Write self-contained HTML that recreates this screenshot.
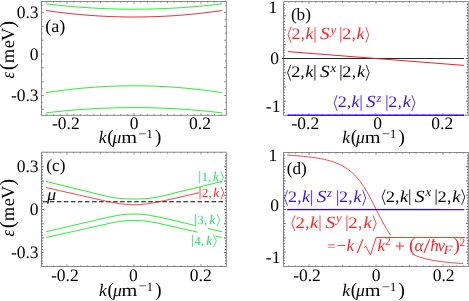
<!DOCTYPE html>
<html><head><meta charset="utf-8"><title>fig</title>
<style>html,body{margin:0;padding:0;background:#fff;}svg{display:block;will-change:transform;}</style></head>
<body>
<svg width="469" height="301" viewBox="0 0 469 301" style="font-family:&quot;Liberation Serif&quot;,serif" text-rendering="geometricPrecision">
<rect width="469" height="301" fill="#fff"/>
<rect x="41.5" y="1.5" width="184.8" height="113.8" fill="none" stroke="#7e7e7e" stroke-width="0.9"/>
<path d="M46.9 115.3v-1.2M46.9 1.5v1.2M53.6 115.3v-1.2M53.6 1.5v1.2M60.3 115.3v-1.2M60.3 1.5v1.2M67.0 115.3v-2.4M67.0 1.5v2.4M73.7 115.3v-1.2M73.7 1.5v1.2M80.4 115.3v-1.2M80.4 1.5v1.2M87.1 115.3v-1.2M87.1 1.5v1.2M93.8 115.3v-1.2M93.8 1.5v1.2M100.5 115.3v-1.6M100.5 1.5v1.6M107.2 115.3v-1.2M107.2 1.5v1.2M113.9 115.3v-1.2M113.9 1.5v1.2M120.6 115.3v-1.2M120.6 1.5v1.2M127.3 115.3v-1.2M127.3 1.5v1.2M134.0 115.3v-2.4M134.0 1.5v2.4M140.7 115.3v-1.2M140.7 1.5v1.2M147.4 115.3v-1.2M147.4 1.5v1.2M154.1 115.3v-1.2M154.1 1.5v1.2M160.8 115.3v-1.2M160.8 1.5v1.2M167.5 115.3v-1.6M167.5 1.5v1.6M174.2 115.3v-1.2M174.2 1.5v1.2M180.9 115.3v-1.2M180.9 1.5v1.2M187.6 115.3v-1.2M187.6 1.5v1.2M194.3 115.3v-1.2M194.3 1.5v1.2M201.0 115.3v-2.4M201.0 1.5v2.4M207.7 115.3v-1.2M207.7 1.5v1.2M214.4 115.3v-1.2M214.4 1.5v1.2M221.1 115.3v-1.2M221.1 1.5v1.2" stroke="#666" stroke-width="0.7" fill="none"/>
<path d="M41.5 5.6h1.2M226.3 5.6h-1.2M41.5 12.5h2.3M226.3 12.5h-2.3M41.5 19.4h1.2M226.3 19.4h-1.2M41.5 26.3h2.3M226.3 26.3h-2.3M41.5 33.3h1.2M226.3 33.3h-1.2M41.5 40.2h2.3M226.3 40.2h-2.3M41.5 47.1h1.2M226.3 47.1h-1.2M41.5 54.0h2.3M226.3 54.0h-2.3M41.5 60.9h1.2M226.3 60.9h-1.2M41.5 67.8h2.3M226.3 67.8h-2.3M41.5 74.7h1.2M226.3 74.7h-1.2M41.5 81.7h2.3M226.3 81.7h-2.3M41.5 88.6h1.2M226.3 88.6h-1.2M41.5 95.5h2.3M226.3 95.5h-2.3M41.5 102.4h1.2M226.3 102.4h-1.2M41.5 109.3h2.3M226.3 109.3h-2.3" stroke="#666" stroke-width="0.7" fill="none"/>
<polyline points="45.9,3.80 47.9,4.04 49.9,4.28 51.9,4.51 53.9,4.74 55.9,4.96 57.9,5.17 59.9,5.38 61.9,5.58 63.9,5.78 65.9,5.97 67.9,6.16 69.9,6.34 71.9,6.52 73.9,6.69 75.9,6.85 77.9,7.01 79.9,7.16 81.9,7.31 83.9,7.45 85.9,7.59 87.9,7.72 89.9,7.85 91.9,7.97 93.9,8.08 95.9,8.19 97.9,8.29 99.9,8.39 101.9,8.48 103.9,8.57 105.9,8.65 107.9,8.73 109.9,8.80 111.9,8.86 113.9,8.92 115.9,8.97 117.9,9.02 119.9,9.06 121.9,9.10 123.9,9.13 125.9,9.15 127.9,9.17 129.9,9.19 131.9,9.20 133.9,9.20 135.9,9.20 137.9,9.19 139.9,9.18 141.9,9.16 143.9,9.13 145.9,9.10 147.9,9.07 149.9,9.02 151.9,8.98 153.9,8.92 155.9,8.87 157.9,8.80 159.9,8.73 161.9,8.66 163.9,8.58 165.9,8.49 167.9,8.40 169.9,8.30 171.9,8.20 173.9,8.09 175.9,7.98 177.9,7.86 179.9,7.73 181.9,7.60 183.9,7.47 185.9,7.33 187.9,7.18 189.9,7.03 191.9,6.87 193.9,6.70 195.9,6.53 197.9,6.36 199.9,6.18 201.9,5.99 203.9,5.80 205.9,5.60 207.9,5.40 209.9,5.19 211.9,4.98 213.9,4.76 215.9,4.53 217.9,4.30 219.9,4.07 221.9,3.82 222.1,3.80" fill="none" stroke="#05ee10" stroke-width="0.88" />
<polyline points="45.9,10.50 47.9,10.79 49.9,11.08 51.9,11.36 53.9,11.63 55.9,11.89 57.9,12.15 59.9,12.40 61.9,12.65 63.9,12.88 65.9,13.12 67.9,13.34 69.9,13.56 71.9,13.77 73.9,13.98 75.9,14.17 77.9,14.36 79.9,14.55 81.9,14.73 83.9,14.90 85.9,15.06 87.9,15.22 89.9,15.37 91.9,15.52 93.9,15.65 95.9,15.78 97.9,15.91 99.9,16.03 101.9,16.14 103.9,16.24 105.9,16.34 107.9,16.43 109.9,16.51 111.9,16.59 113.9,16.66 115.9,16.73 117.9,16.78 119.9,16.83 121.9,16.88 123.9,16.91 125.9,16.95 127.9,16.97 129.9,16.99 131.9,17.00 133.9,17.00 135.9,17.00 137.9,16.99 139.9,16.97 141.9,16.95 143.9,16.92 145.9,16.88 147.9,16.84 149.9,16.79 151.9,16.73 153.9,16.67 155.9,16.60 157.9,16.52 159.9,16.44 161.9,16.35 163.9,16.25 165.9,16.15 167.9,16.04 169.9,15.92 171.9,15.80 173.9,15.67 175.9,15.53 177.9,15.39 179.9,15.24 181.9,15.08 183.9,14.91 185.9,14.74 187.9,14.57 189.9,14.38 191.9,14.19 193.9,14.00 195.9,13.79 197.9,13.58 199.9,13.36 201.9,13.14 203.9,12.91 205.9,12.67 207.9,12.43 209.9,12.18 211.9,11.92 213.9,11.65 215.9,11.38 217.9,11.10 219.9,10.82 221.9,10.53 222.1,10.50" fill="none" stroke="#da1414" stroke-width="0.88" />
<polyline points="45.9,92.70 47.9,92.39 49.9,92.09 51.9,91.79 53.9,91.50 55.9,91.22 57.9,90.95 59.9,90.68 61.9,90.42 63.9,90.17 65.9,89.92 67.9,89.68 69.9,89.45 71.9,89.23 73.9,89.01 75.9,88.80 77.9,88.60 79.9,88.40 81.9,88.21 83.9,88.03 85.9,87.86 87.9,87.69 89.9,87.53 91.9,87.38 93.9,87.23 95.9,87.09 97.9,86.96 99.9,86.83 101.9,86.72 103.9,86.61 105.9,86.50 107.9,86.41 109.9,86.32 111.9,86.23 113.9,86.16 115.9,86.09 117.9,86.03 119.9,85.98 121.9,85.93 123.9,85.89 125.9,85.86 127.9,85.83 129.9,85.81 131.9,85.80 133.9,85.80 135.9,85.80 137.9,85.81 139.9,85.83 141.9,85.86 143.9,85.89 145.9,85.93 147.9,85.97 149.9,86.02 151.9,86.08 153.9,86.15 155.9,86.23 157.9,86.31 159.9,86.40 161.9,86.49 163.9,86.59 165.9,86.70 167.9,86.82 169.9,86.95 171.9,87.08 173.9,87.22 175.9,87.36 177.9,87.51 179.9,87.67 181.9,87.84 183.9,88.01 185.9,88.19 187.9,88.38 189.9,88.58 191.9,88.78 193.9,88.99 195.9,89.21 197.9,89.43 199.9,89.66 201.9,89.90 203.9,90.14 205.9,90.40 207.9,90.65 209.9,90.92 211.9,91.19 213.9,91.48 215.9,91.76 217.9,92.06 219.9,92.36 221.9,92.67 222.1,92.70" fill="none" stroke="#05ee10" stroke-width="0.88" />
<polyline points="45.9,112.90 47.9,112.66 49.9,112.43 51.9,112.20 53.9,111.98 55.9,111.77 57.9,111.55 59.9,111.35 61.9,111.15 63.9,110.96 65.9,110.77 67.9,110.58 69.9,110.41 71.9,110.23 73.9,110.07 75.9,109.91 77.9,109.75 79.9,109.60 81.9,109.45 83.9,109.31 85.9,109.18 87.9,109.05 89.9,108.93 91.9,108.81 93.9,108.70 95.9,108.59 97.9,108.49 99.9,108.39 101.9,108.30 103.9,108.22 105.9,108.14 107.9,108.07 109.9,108.00 111.9,107.93 113.9,107.88 115.9,107.82 117.9,107.78 119.9,107.74 121.9,107.70 123.9,107.67 125.9,107.64 127.9,107.63 129.9,107.61 131.9,107.60 133.9,107.60 135.9,107.60 137.9,107.61 139.9,107.62 141.9,107.64 143.9,107.67 145.9,107.70 147.9,107.73 149.9,107.77 151.9,107.82 153.9,107.87 155.9,107.93 157.9,107.99 159.9,108.06 161.9,108.13 163.9,108.21 165.9,108.29 167.9,108.38 169.9,108.48 171.9,108.58 173.9,108.69 175.9,108.80 177.9,108.92 179.9,109.04 181.9,109.17 183.9,109.30 185.9,109.44 187.9,109.58 189.9,109.73 191.9,109.89 193.9,110.05 195.9,110.22 197.9,110.39 199.9,110.57 201.9,110.75 203.9,110.94 205.9,111.13 207.9,111.33 209.9,111.53 211.9,111.74 213.9,111.96 215.9,112.18 217.9,112.41 219.9,112.64 221.9,112.88 222.1,112.90" fill="none" stroke="#05ee10" stroke-width="0.88" />
<text x="38.6" y="18.2" font-size="17.5" text-anchor="end" fill="#000"  >0.3</text>
<text x="38.6" y="59.8" font-size="17.5" text-anchor="end" fill="#000"  >0</text>
<text x="38.6" y="101.2" font-size="17.5" text-anchor="end" fill="#000"  >-0.3</text>
<text x="65.8" y="128.5" font-size="17.5" text-anchor="middle" fill="#000"  >-0.2</text>
<text x="134" y="128.5" font-size="17.5" text-anchor="middle" fill="#000"  >0</text>
<text x="200" y="128.5" font-size="17.5" text-anchor="middle" fill="#000"  >0.2</text>
<text x="45.2" y="32.1" font-size="18.2" text-anchor="start" fill="#000"  >(a)</text>
<g fill="#000" font-size="17.5">
<text x="98.8" y="143.2" font-style="italic">k</text>
<text x="107.2" y="143.2" font-size="19">(</text>
<text x="112.6" y="143.2" font-style="italic" font-size="17.5">μ</text>
<text x="121.2" y="143.2" textLength="15.8" lengthAdjust="spacingAndGlyphs">m</text>
<text x="138.3" y="137.8" font-size="12.5" textLength="8.3" lengthAdjust="spacingAndGlyphs">−</text>
<text x="146.4" y="138.2" font-size="12.5">1</text>
<text x="154.9" y="143.2" font-size="19">)</text>
</g>
<g transform="translate(13.9,78.7) rotate(-90)" fill="#000" font-size="18.5">
<text x="0.2" y="0.3" font-style="italic" font-size="18.5" textLength="6.6" lengthAdjust="spacingAndGlyphs">ε</text>
<text x="8.5" y="0.4" font-size="21">(</text>
<text x="15.5" y="0">m</text>
<text x="30.4" y="0">e</text>
<text x="37.8" y="0">V</text>
<text x="50.9" y="0.4" font-size="21">)</text>
</g>
<rect x="283.6" y="1.6" width="184.59999999999997" height="113.7" fill="none" stroke="#7e7e7e" stroke-width="0.9"/>
<path d="M288.9 115.3v-1.2M288.9 1.6v1.2M295.6 115.3v-1.2M295.6 1.6v1.2M302.3 115.3v-1.2M302.3 1.6v1.2M309.0 115.3v-2.4M309.0 1.6v2.4M315.7 115.3v-1.2M315.7 1.6v1.2M322.4 115.3v-1.2M322.4 1.6v1.2M329.1 115.3v-1.2M329.1 1.6v1.2M335.8 115.3v-1.2M335.8 1.6v1.2M342.5 115.3v-1.6M342.5 1.6v1.6M349.2 115.3v-1.2M349.2 1.6v1.2M355.9 115.3v-1.2M355.9 1.6v1.2M362.6 115.3v-1.2M362.6 1.6v1.2M369.3 115.3v-1.2M369.3 1.6v1.2M376.0 115.3v-2.4M376.0 1.6v2.4M382.7 115.3v-1.2M382.7 1.6v1.2M389.4 115.3v-1.2M389.4 1.6v1.2M396.1 115.3v-1.2M396.1 1.6v1.2M402.8 115.3v-1.2M402.8 1.6v1.2M409.5 115.3v-1.6M409.5 1.6v1.6M416.2 115.3v-1.2M416.2 1.6v1.2M422.9 115.3v-1.2M422.9 1.6v1.2M429.6 115.3v-1.2M429.6 1.6v1.2M436.3 115.3v-1.2M436.3 1.6v1.2M443.0 115.3v-2.4M443.0 1.6v2.4M449.7 115.3v-1.2M449.7 1.6v1.2M456.4 115.3v-1.2M456.4 1.6v1.2M463.1 115.3v-1.2M463.1 1.6v1.2" stroke="#666" stroke-width="0.7" fill="none"/>
<path d="M283.6 4.4h1.3M468.2 4.4h-1.3M283.6 7.3h1.3M468.2 7.3h-1.3M283.6 10.1h1.3M468.2 10.1h-1.3M283.6 13.0h1.3M468.2 13.0h-1.3M283.6 15.8h2.3M468.2 15.8h-2.3M283.6 18.7h1.3M468.2 18.7h-1.3M283.6 21.5h1.3M468.2 21.5h-1.3M283.6 24.4h1.3M468.2 24.4h-1.3M283.6 27.2h1.3M468.2 27.2h-1.3M283.6 30.0h2.3M468.2 30.0h-2.3M283.6 32.9h1.3M468.2 32.9h-1.3M283.6 35.7h1.3M468.2 35.7h-1.3M283.6 38.6h1.3M468.2 38.6h-1.3M283.6 41.4h1.3M468.2 41.4h-1.3M283.6 44.3h2.3M468.2 44.3h-2.3M283.6 47.1h1.3M468.2 47.1h-1.3M283.6 50.0h1.3M468.2 50.0h-1.3M283.6 52.8h1.3M468.2 52.8h-1.3M283.6 55.7h1.3M468.2 55.7h-1.3M283.6 58.5h2.3M468.2 58.5h-2.3M283.6 61.3h1.3M468.2 61.3h-1.3M283.6 64.2h1.3M468.2 64.2h-1.3M283.6 67.0h1.3M468.2 67.0h-1.3M283.6 69.9h1.3M468.2 69.9h-1.3M283.6 72.7h2.3M468.2 72.7h-2.3M283.6 75.6h1.3M468.2 75.6h-1.3M283.6 78.4h1.3M468.2 78.4h-1.3M283.6 81.3h1.3M468.2 81.3h-1.3M283.6 84.1h1.3M468.2 84.1h-1.3M283.6 87.0h2.3M468.2 87.0h-2.3M283.6 89.8h1.3M468.2 89.8h-1.3M283.6 92.6h1.3M468.2 92.6h-1.3M283.6 95.5h1.3M468.2 95.5h-1.3M283.6 98.3h1.3M468.2 98.3h-1.3M283.6 101.2h2.3M468.2 101.2h-2.3M283.6 104.0h1.3M468.2 104.0h-1.3M283.6 106.9h1.3M468.2 106.9h-1.3M283.6 109.7h1.3M468.2 109.7h-1.3M283.6 112.6h1.3M468.2 112.6h-1.3" stroke="#444" stroke-width="0.85" fill="none"/>
<line x1="282.1" y1="58.5" x2="464" y2="58.5" stroke="#1a1a1a" stroke-width="0.95"/>
<line x1="288" y1="51.6" x2="464" y2="65.4" stroke="#f01818" stroke-width="0.95"/>
<line x1="287.6" y1="115.2" x2="464" y2="115.2" stroke="#3a10e8" stroke-width="1.4"/>
<text x="277.2" y="13.2" font-size="17.5" text-anchor="end" fill="#000"  >1</text>
<text x="278.9" y="64" font-size="17.5" text-anchor="end" fill="#000"  >0</text>
<text x="280.4" y="111.6" font-size="17.5" text-anchor="end" fill="#000"  >-1</text>
<text x="305.4" y="128.5" font-size="17.5" text-anchor="middle" fill="#000"  >-0.2</text>
<text x="377.6" y="128.5" font-size="17.5" text-anchor="middle" fill="#000"  >0</text>
<text x="442.3" y="128.5" font-size="17.5" text-anchor="middle" fill="#000"  >0.2</text>
<text x="290.9" y="20.2" font-size="17.2" text-anchor="start" fill="#000"  >(b)</text>
<g fill="#000" font-size="17.5">
<text x="342.3" y="143.4" font-style="italic">k</text>
<text x="350.7" y="143.4" font-size="19">(</text>
<text x="356.1" y="143.4" font-style="italic" font-size="17.5">μ</text>
<text x="364.7" y="143.4" textLength="15.8" lengthAdjust="spacingAndGlyphs">m</text>
<text x="381.8" y="138.0" font-size="12.5" textLength="8.3" lengthAdjust="spacingAndGlyphs">−</text>
<text x="389.9" y="138.4" font-size="12.5">1</text>
<text x="398.4" y="143.4" font-size="19">)</text>
</g>
<g fill="#ff2424" stroke="none" font-size="16">
<polyline points="291.0,27.1 288.0,34.9 291.0,42.7" fill="none" stroke="#ff2424" stroke-width="0.85"/>
<text x="291.6" y="39.3" textLength="9.0" lengthAdjust="spacingAndGlyphs">2</text>
<text x="300.8" y="39.3">,</text>
<text x="305.4" y="39.3" font-style="italic" font-size="16.5" textLength="8.0" lengthAdjust="spacingAndGlyphs">k</text>
<line x1="315.0" y1="27.1" x2="315.0" y2="42.7" stroke="#ff2424" stroke-width="0.85"/>
<text x="320.0" y="39.3" font-style="italic" font-size="17" textLength="9.6" lengthAdjust="spacingAndGlyphs">S</text>
<text x="330.4" y="33.9" font-style="italic" font-size="12.8">y</text>
<line x1="340.8" y1="27.1" x2="340.8" y2="42.7" stroke="#ff2424" stroke-width="0.85"/>
<text x="342.2" y="39.3" textLength="9.0" lengthAdjust="spacingAndGlyphs">2</text>
<text x="351.7" y="39.3">,</text>
<text x="356.6" y="39.3" font-style="italic" font-size="16.5" textLength="8.0" lengthAdjust="spacingAndGlyphs">k</text>
<polyline points="365.8,27.1 368.8,34.9 365.8,42.7" fill="none" stroke="#ff2424" stroke-width="0.85"/>
</g>
<g fill="#000" stroke="none" font-size="16">
<polyline points="290.6,65.0 287.6,72.8 290.6,80.6" fill="none" stroke="#000" stroke-width="0.85"/>
<text x="291.2" y="77.2" textLength="9.1" lengthAdjust="spacingAndGlyphs">2</text>
<text x="300.5" y="77.2">,</text>
<text x="305.2" y="77.2" font-style="italic" font-size="16.5" textLength="8.1" lengthAdjust="spacingAndGlyphs">k</text>
<line x1="314.9" y1="65.0" x2="314.9" y2="80.6" stroke="#000" stroke-width="0.85"/>
<text x="319.9" y="77.2" font-style="italic" font-size="17" textLength="9.7" lengthAdjust="spacingAndGlyphs">S</text>
<text x="330.4" y="71.8" font-style="italic" font-size="12.8">x</text>
<line x1="340.9" y1="65.0" x2="340.9" y2="80.6" stroke="#000" stroke-width="0.85"/>
<text x="342.3" y="77.2" textLength="9.1" lengthAdjust="spacingAndGlyphs">2</text>
<text x="351.9" y="77.2">,</text>
<text x="356.9" y="77.2" font-style="italic" font-size="16.5" textLength="8.1" lengthAdjust="spacingAndGlyphs">k</text>
<polyline points="366.2,65.0 369.2,72.8 366.2,80.6" fill="none" stroke="#000" stroke-width="0.85"/>
</g>
<g fill="#3a10e8" stroke="none" font-size="16">
<polyline points="337.1,95.2 334.1,103.0 337.1,110.8" fill="none" stroke="#3a10e8" stroke-width="0.85"/>
<text x="337.7" y="107.4" textLength="9.0" lengthAdjust="spacingAndGlyphs">2</text>
<text x="346.9" y="107.4">,</text>
<text x="351.5" y="107.4" font-style="italic" font-size="16.5" textLength="8.0" lengthAdjust="spacingAndGlyphs">k</text>
<line x1="361.1" y1="95.2" x2="361.1" y2="110.8" stroke="#3a10e8" stroke-width="0.85"/>
<text x="366.1" y="107.4" font-style="italic" font-size="17" textLength="9.6" lengthAdjust="spacingAndGlyphs">S</text>
<text x="376.5" y="102.0" font-style="italic" font-size="12.8">z</text>
<line x1="386.9" y1="95.2" x2="386.9" y2="110.8" stroke="#3a10e8" stroke-width="0.85"/>
<text x="388.3" y="107.4" textLength="9.0" lengthAdjust="spacingAndGlyphs">2</text>
<text x="397.8" y="107.4">,</text>
<text x="402.7" y="107.4" font-style="italic" font-size="16.5" textLength="8.0" lengthAdjust="spacingAndGlyphs">k</text>
<polyline points="411.9,95.2 414.9,103.0 411.9,110.8" fill="none" stroke="#3a10e8" stroke-width="0.85"/>
</g>
<rect x="41.5" y="152.2" width="184.8" height="114.30000000000001" fill="none" stroke="#7e7e7e" stroke-width="0.9"/>
<path d="M46.9 266.5v-1.2M46.9 152.2v1.2M53.6 266.5v-1.2M53.6 152.2v1.2M60.3 266.5v-1.2M60.3 152.2v1.2M67.0 266.5v-2.4M67.0 152.2v2.4M73.7 266.5v-1.2M73.7 152.2v1.2M80.4 266.5v-1.2M80.4 152.2v1.2M87.1 266.5v-1.2M87.1 152.2v1.2M93.8 266.5v-1.2M93.8 152.2v1.2M100.5 266.5v-1.6M100.5 152.2v1.6M107.2 266.5v-1.2M107.2 152.2v1.2M113.9 266.5v-1.2M113.9 152.2v1.2M120.6 266.5v-1.2M120.6 152.2v1.2M127.3 266.5v-1.2M127.3 152.2v1.2M134.0 266.5v-2.4M134.0 152.2v2.4M140.7 266.5v-1.2M140.7 152.2v1.2M147.4 266.5v-1.2M147.4 152.2v1.2M154.1 266.5v-1.2M154.1 152.2v1.2M160.8 266.5v-1.2M160.8 152.2v1.2M167.5 266.5v-1.6M167.5 152.2v1.6M174.2 266.5v-1.2M174.2 152.2v1.2M180.9 266.5v-1.2M180.9 152.2v1.2M187.6 266.5v-1.2M187.6 152.2v1.2M194.3 266.5v-1.2M194.3 152.2v1.2M201.0 266.5v-2.4M201.0 152.2v2.4M207.7 266.5v-1.2M207.7 152.2v1.2M214.4 266.5v-1.2M214.4 152.2v1.2M221.1 266.5v-1.2M221.1 152.2v1.2" stroke="#666" stroke-width="0.7" fill="none"/>
<path d="M41.5 155.3h1.3M226.3 155.3h-1.3M41.5 158.1h1.3M226.3 158.1h-1.3M41.5 161.0h1.3M226.3 161.0h-1.3M41.5 163.8h1.3M226.3 163.8h-1.3M41.5 166.7h2.3M226.3 166.7h-2.3M41.5 169.5h1.3M226.3 169.5h-1.3M41.5 172.4h1.3M226.3 172.4h-1.3M41.5 175.3h1.3M226.3 175.3h-1.3M41.5 178.1h1.3M226.3 178.1h-1.3M41.5 181.0h2.3M226.3 181.0h-2.3M41.5 183.8h1.3M226.3 183.8h-1.3M41.5 186.7h1.3M226.3 186.7h-1.3M41.5 189.5h1.3M226.3 189.5h-1.3M41.5 192.4h1.3M226.3 192.4h-1.3M41.5 195.2h2.3M226.3 195.2h-2.3M41.5 198.1h1.3M226.3 198.1h-1.3M41.5 200.9h1.3M226.3 200.9h-1.3M41.5 203.8h1.3M226.3 203.8h-1.3M41.5 206.6h1.3M226.3 206.6h-1.3M41.5 209.5h2.3M226.3 209.5h-2.3M41.5 212.4h1.3M226.3 212.4h-1.3M41.5 215.2h1.3M226.3 215.2h-1.3M41.5 218.1h1.3M226.3 218.1h-1.3M41.5 220.9h1.3M226.3 220.9h-1.3M41.5 223.8h2.3M226.3 223.8h-2.3M41.5 226.6h1.3M226.3 226.6h-1.3M41.5 229.5h1.3M226.3 229.5h-1.3M41.5 232.3h1.3M226.3 232.3h-1.3M41.5 235.2h1.3M226.3 235.2h-1.3M41.5 238.0h2.3M226.3 238.0h-2.3M41.5 240.9h1.3M226.3 240.9h-1.3M41.5 243.7h1.3M226.3 243.7h-1.3M41.5 246.6h1.3M226.3 246.6h-1.3M41.5 249.5h1.3M226.3 249.5h-1.3M41.5 252.3h2.3M226.3 252.3h-2.3M41.5 255.2h1.3M226.3 255.2h-1.3M41.5 258.0h1.3M226.3 258.0h-1.3M41.5 260.9h1.3M226.3 260.9h-1.3M41.5 263.7h1.3M226.3 263.7h-1.3" stroke="#444" stroke-width="0.85" fill="none"/>
<line x1="42.8" y1="201.7" x2="224.5" y2="201.7" stroke="#000" stroke-width="1.1" stroke-dasharray="4.5 2.53"/>
<polyline points="45.9,181.40 47.9,181.89 49.9,182.37 51.9,182.86 53.9,183.35 55.9,183.84 57.9,184.33 59.9,184.82 61.9,185.31 63.9,185.81 65.9,186.31 67.9,186.80 69.9,187.29 71.9,187.79 73.9,188.28 75.9,188.76 77.9,189.24 79.9,189.72 81.9,190.20 83.9,190.67 85.9,191.15 87.9,191.63 89.9,192.12 91.9,192.62 93.9,193.13 95.9,193.64 97.9,194.14 99.9,194.64 101.9,195.12 103.9,195.58 105.9,196.03 107.9,196.49 109.9,196.92 111.9,197.32 113.9,197.66 115.9,197.94 117.9,198.21 119.9,198.45 121.9,198.62 123.9,198.73 125.9,198.82 127.9,198.89 129.9,198.95 131.9,198.99 133.9,199.00 135.9,198.99 137.9,198.95 139.9,198.90 141.9,198.82 143.9,198.74 145.9,198.64 147.9,198.47 149.9,198.24 151.9,197.97 153.9,197.69 155.9,197.36 157.9,196.96 159.9,196.53 161.9,196.08 163.9,195.62 165.9,195.16 167.9,194.69 169.9,194.19 171.9,193.69 173.9,193.18 175.9,192.67 177.9,192.17 179.9,191.68 181.9,191.20 183.9,190.72 185.9,190.24 187.9,189.77 189.9,189.29 191.9,188.81 193.9,188.32 195.9,187.84 197.9,187.34 199.9,186.85 201.9,186.35 203.9,185.86 205.9,185.36 207.9,184.87 209.9,184.38 211.9,183.89 213.9,183.40 215.9,182.91 217.9,182.42 219.9,181.94 221.5,181.55" fill="none" stroke="#05ee10" stroke-width="0.88" />
<polyline points="45.9,187.50 47.9,187.96 49.9,188.42 51.9,188.88 53.9,189.34 55.9,189.79 57.9,190.25 59.9,190.70 61.9,191.16 63.9,191.61 65.9,192.07 67.9,192.52 69.9,192.97 71.9,193.42 73.9,193.88 75.9,194.33 77.9,194.78 79.9,195.24 81.9,195.69 83.9,196.14 85.9,196.60 87.9,197.05 89.9,197.50 91.9,197.97 93.9,198.43 95.9,198.89 97.9,199.35 99.9,199.81 101.9,200.25 103.9,200.68 105.9,201.10 107.9,201.51 109.9,201.90 111.9,202.29 113.9,202.65 115.9,203.00 117.9,203.35 119.9,203.68 121.9,203.96 123.9,204.17 125.9,204.35 127.9,204.52 129.9,204.66 131.9,204.76 133.9,204.80 135.9,204.77 137.9,204.68 139.9,204.54 141.9,204.37 143.9,204.18 145.9,203.98 147.9,203.71 149.9,203.39 151.9,203.04 153.9,202.68 155.9,202.32 157.9,201.94 159.9,201.55 161.9,201.14 163.9,200.72 165.9,200.29 167.9,199.85 169.9,199.40 171.9,198.94 173.9,198.48 175.9,198.01 177.9,197.55 179.9,197.10 181.9,196.64 183.9,196.19 185.9,195.74 187.9,195.28 189.9,194.83 191.9,194.38 193.9,193.92 195.9,193.47 197.9,193.02 199.2,192.72" fill="none" stroke="#ff2424" stroke-width="0.88" />
<polyline points="45.9,231.80 47.9,231.32 49.9,230.85 51.9,230.38 53.9,229.90 55.9,229.43 57.9,228.96 59.9,228.49 61.9,228.02 63.9,227.55 65.9,227.09 67.9,226.62 69.9,226.16 71.9,225.69 73.9,225.22 75.9,224.76 77.9,224.29 79.9,223.82 81.9,223.36 83.9,222.89 85.9,222.42 87.9,221.96 89.9,221.49 91.9,221.02 93.9,220.54 95.9,220.06 97.9,219.59 99.9,219.12 101.9,218.67 103.9,218.22 105.9,217.79 107.9,217.36 109.9,216.94 111.9,216.54 113.9,216.16 115.9,215.78 117.9,215.39 119.9,215.03 121.9,214.74 123.9,214.54 125.9,214.38 127.9,214.23 129.9,214.11 131.9,214.03 133.9,214.00 135.9,214.03 137.9,214.10 139.9,214.22 141.9,214.36 143.9,214.52 145.9,214.71 147.9,215.00 149.9,215.35 151.9,215.74 153.9,216.12 155.9,216.50 157.9,216.90 159.9,217.32 161.9,217.74 163.9,218.18 165.9,218.62 167.9,219.08 169.9,219.54 171.9,220.02 173.9,220.49 175.9,220.97 177.9,221.44 179.9,221.91 181.9,222.38 183.9,222.84 185.9,223.31 187.9,223.78 189.9,224.24 191.9,224.71 193.9,225.18 195.0,225.43" fill="none" stroke="#05ee10" stroke-width="0.88" />
<polyline points="207.9,228.44 209.9,228.91 211.9,229.38 213.9,229.85 215.9,230.33 217.9,230.80 219.9,231.28 221.9,231.75" fill="none" stroke="#05ee10" stroke-width="0.88" />
<polyline points="45.9,237.50 47.9,237.06 49.9,236.61 51.9,236.17 53.9,235.73 55.9,235.28 57.9,234.84 59.9,234.40 61.9,233.96 63.9,233.52 65.9,233.09 67.9,232.65 69.9,232.21 71.9,231.77 73.9,231.32 75.9,230.87 77.9,230.42 79.9,229.97 81.9,229.51 83.9,229.05 85.9,228.60 87.9,228.15 89.9,227.70 91.9,227.26 93.9,226.82 95.9,226.38 97.9,225.94 99.9,225.51 101.9,225.07 103.9,224.62 105.9,224.16 107.9,223.68 109.9,223.20 111.9,222.75 113.9,222.35 115.9,222.00 117.9,221.66 119.9,221.36 121.9,221.11 123.9,220.95 125.9,220.81 127.9,220.69 129.9,220.59 131.9,220.53 133.9,220.50 135.9,220.52 137.9,220.58 139.9,220.68 141.9,220.80 143.9,220.94 145.9,221.09 147.9,221.33 149.9,221.63 151.9,221.97 153.9,222.32 155.9,222.71 157.9,223.15 159.9,223.63 161.9,224.11 163.9,224.58 165.9,225.02 167.9,225.46 169.9,225.90 171.9,226.34 173.9,226.77 175.9,227.21 177.9,227.66 179.9,228.10 181.9,228.55 183.9,229.01 185.9,229.46 187.9,229.92 189.9,230.38 191.9,230.83 193.9,231.28 195.9,231.72 197.7,232.12" fill="none" stroke="#05ee10" stroke-width="0.88" />
<polyline points="215.5,236.04 217.5,236.48 219.5,236.92 221.5,237.37 221.9,237.46" fill="none" stroke="#05ee10" stroke-width="0.88" />
<text x="38.6" y="172.4" font-size="17.5" text-anchor="end" fill="#000"  >0.3</text>
<text x="38.6" y="215.2" font-size="17.5" text-anchor="end" fill="#000"  >0</text>
<text x="38.6" y="258" font-size="17.5" text-anchor="end" fill="#000"  >-0.3</text>
<text x="64.8" y="280.6" font-size="17.5" text-anchor="middle" fill="#000"  >-0.2</text>
<text x="133.3" y="280.6" font-size="17.5" text-anchor="middle" fill="#000"  >0</text>
<text x="200.7" y="280.6" font-size="17.5" text-anchor="middle" fill="#000"  >0.2</text>
<text x="46.3" y="171.0" font-size="17.3" text-anchor="start" fill="#000"  >(c)</text>
<text x="47" y="200.2" font-size="17" text-anchor="start" fill="#000" font-style="italic" textLength="9.2" lengthAdjust="spacingAndGlyphs">μ</text>
<g fill="#000" font-size="17.5">
<text x="99.1" y="295.6" font-style="italic">k</text>
<text x="107.5" y="295.6" font-size="19">(</text>
<text x="112.9" y="295.6" font-style="italic" font-size="17.5">μ</text>
<text x="121.5" y="295.6" textLength="15.8" lengthAdjust="spacingAndGlyphs">m</text>
<text x="138.6" y="290.2" font-size="12.5" textLength="8.3" lengthAdjust="spacingAndGlyphs">−</text>
<text x="146.7" y="290.6" font-size="12.5">1</text>
<text x="155.2" y="295.6" font-size="19">)</text>
</g>
<g transform="translate(13.9,236.7) rotate(-90)" fill="#000" font-size="18.5">
<text x="0.2" y="0.3" font-style="italic" font-size="18.5" textLength="6.6" lengthAdjust="spacingAndGlyphs">ε</text>
<text x="8.5" y="0.4" font-size="21">(</text>
<text x="15.5" y="0">m</text>
<text x="30.4" y="0">e</text>
<text x="37.8" y="0">V</text>
<text x="50.9" y="0.4" font-size="21">)</text>
</g>
<g fill="#1fe06a" stroke="none" font-size="12.6">
<line x1="199.7" y1="171.0" x2="199.7" y2="183.4" stroke="#1fe06a" stroke-width="0.8"/>
<text x="201.7" y="181.4">1</text>
<text x="208.1" y="181.4">,</text>
<text x="212.9" y="181.4" font-style="italic" font-size="13.2">k</text>
<polyline points="220.6,171.0 223.5,177.2 220.6,183.4" fill="none" stroke="#1fe06a" stroke-width="0.8"/>
</g>
<g fill="#ff2424" stroke="none" font-size="12.6">
<line x1="200.0" y1="186.8" x2="200.0" y2="199.2" stroke="#ff2424" stroke-width="0.8"/>
<text x="202.0" y="197.2">2</text>
<text x="208.4" y="197.2">,</text>
<text x="213.2" y="197.2" font-style="italic" font-size="13.2">k</text>
<polyline points="220.9,186.8 223.8,193.0 220.9,199.2" fill="none" stroke="#ff2424" stroke-width="0.8"/>
</g>
<g fill="#1fe06a" stroke="none" font-size="12.6">
<line x1="195.6" y1="214.0" x2="195.6" y2="226.4" stroke="#1fe06a" stroke-width="0.8"/>
<text x="197.6" y="224.4">3</text>
<text x="204.0" y="224.4">,</text>
<text x="209.4" y="224.4" font-style="italic" font-size="13.2">k</text>
<polyline points="217.0,214.0 219.9,220.2 217.0,226.4" fill="none" stroke="#1fe06a" stroke-width="0.8"/>
</g>
<g fill="#1fe06a" stroke="none" font-size="12.6">
<line x1="192.4" y1="234.8" x2="192.4" y2="247.2" stroke="#1fe06a" stroke-width="0.8"/>
<text x="194.4" y="245.2">4</text>
<text x="200.8" y="245.2">,</text>
<text x="206.2" y="245.2" font-style="italic" font-size="13.2">k</text>
<polyline points="213.4,234.8 216.3,241.0 213.4,247.2" fill="none" stroke="#1fe06a" stroke-width="0.8"/>
</g>
<rect x="283.5" y="152.5" width="184.8" height="114.0" fill="none" stroke="#7e7e7e" stroke-width="0.9"/>
<path d="M288.9 266.5v-1.2M288.9 152.5v1.2M295.6 266.5v-1.2M295.6 152.5v1.2M302.3 266.5v-1.2M302.3 152.5v1.2M309.0 266.5v-2.4M309.0 152.5v2.4M315.7 266.5v-1.2M315.7 152.5v1.2M322.4 266.5v-1.2M322.4 152.5v1.2M329.1 266.5v-1.2M329.1 152.5v1.2M335.8 266.5v-1.2M335.8 152.5v1.2M342.5 266.5v-1.6M342.5 152.5v1.6M349.2 266.5v-1.2M349.2 152.5v1.2M355.9 266.5v-1.2M355.9 152.5v1.2M362.6 266.5v-1.2M362.6 152.5v1.2M369.3 266.5v-1.2M369.3 152.5v1.2M376.0 266.5v-2.4M376.0 152.5v2.4M382.7 266.5v-1.2M382.7 152.5v1.2M389.4 266.5v-1.2M389.4 152.5v1.2M396.1 266.5v-1.2M396.1 152.5v1.2M402.8 266.5v-1.2M402.8 152.5v1.2M409.5 266.5v-1.6M409.5 152.5v1.6M416.2 266.5v-1.2M416.2 152.5v1.2M422.9 266.5v-1.2M422.9 152.5v1.2M429.6 266.5v-1.2M429.6 152.5v1.2M436.3 266.5v-1.2M436.3 152.5v1.2M443.0 266.5v-2.4M443.0 152.5v2.4M449.7 266.5v-1.2M449.7 152.5v1.2M456.4 266.5v-1.2M456.4 152.5v1.2M463.1 266.5v-1.2M463.1 152.5v1.2" stroke="#666" stroke-width="0.7" fill="none"/>
<path d="M283.5 155.3h1.3M468.3 155.3h-1.3M283.5 158.2h1.3M468.3 158.2h-1.3M283.5 161.0h1.3M468.3 161.0h-1.3M283.5 163.9h1.3M468.3 163.9h-1.3M283.5 166.7h2.3M468.3 166.7h-2.3M283.5 169.6h1.3M468.3 169.6h-1.3M283.5 172.4h1.3M468.3 172.4h-1.3M283.5 175.3h1.3M468.3 175.3h-1.3M283.5 178.1h1.3M468.3 178.1h-1.3M283.5 180.9h2.3M468.3 180.9h-2.3M283.5 183.8h1.3M468.3 183.8h-1.3M283.5 186.6h1.3M468.3 186.6h-1.3M283.5 189.5h1.3M468.3 189.5h-1.3M283.5 192.3h1.3M468.3 192.3h-1.3M283.5 195.2h2.3M468.3 195.2h-2.3M283.5 198.0h1.3M468.3 198.0h-1.3M283.5 200.9h1.3M468.3 200.9h-1.3M283.5 203.7h1.3M468.3 203.7h-1.3M283.5 206.6h1.3M468.3 206.6h-1.3M283.5 209.4h2.3M468.3 209.4h-2.3M283.5 212.2h1.3M468.3 212.2h-1.3M283.5 215.1h1.3M468.3 215.1h-1.3M283.5 217.9h1.3M468.3 217.9h-1.3M283.5 220.8h1.3M468.3 220.8h-1.3M283.5 223.6h2.3M468.3 223.6h-2.3M283.5 226.5h1.3M468.3 226.5h-1.3M283.5 229.3h1.3M468.3 229.3h-1.3M283.5 232.2h1.3M468.3 232.2h-1.3M283.5 235.0h1.3M468.3 235.0h-1.3M283.5 237.9h2.3M468.3 237.9h-2.3M283.5 240.7h1.3M468.3 240.7h-1.3M283.5 243.5h1.3M468.3 243.5h-1.3M283.5 246.4h1.3M468.3 246.4h-1.3M283.5 249.2h1.3M468.3 249.2h-1.3M283.5 252.1h2.3M468.3 252.1h-2.3M283.5 254.9h1.3M468.3 254.9h-1.3M283.5 257.8h1.3M468.3 257.8h-1.3M283.5 260.6h1.3M468.3 260.6h-1.3M283.5 263.5h1.3M468.3 263.5h-1.3" stroke="#444" stroke-width="0.85" fill="none"/>
<polyline points="287.2,155.12 288.7,155.20 290.2,155.29 291.7,155.39 293.2,155.49 294.7,155.59 296.2,155.71 297.7,155.82 299.2,155.94 300.7,156.07 302.2,156.21 303.7,156.35 305.2,156.50 306.7,156.66 308.2,156.83 309.7,157.01 311.2,157.20 312.7,157.40 314.2,157.61 315.7,157.83 317.2,158.07 318.7,158.33 320.2,158.60 321.7,158.89 323.2,159.20 324.7,159.53 326.2,159.88 327.7,160.26 329.2,160.66 330.7,161.09 332.2,161.56 333.7,162.06 335.2,162.60 336.7,163.18 338.2,163.80 339.7,164.47 341.2,165.20 342.7,165.99 344.2,166.83 345.7,167.75 347.2,168.75 348.7,169.82 350.2,170.98 351.7,172.24 353.2,173.60 354.7,175.07 356.2,176.66 357.7,178.37 359.2,180.20 360.7,182.17 362.2,184.27 363.7,186.51 365.2,188.88 366.7,191.38 368.2,194.00 369.7,196.73 371.2,199.55 372.7,202.45 374.2,205.41 375.7,208.40 377.2,211.40 378.7,214.38 380.2,217.32 381.7,220.20 383.2,223.00 384.7,225.69 386.2,228.27 387.7,230.73 389.2,233.06 390.7,235.25" fill="none" stroke="#ff2424" stroke-width="0.88" />
<polyline points="412.2,254.09 413.7,254.78 415.2,255.42 416.7,256.01 418.2,256.57 419.7,257.08 421.2,257.55 422.7,258.00 424.2,258.41 425.7,258.80 427.2,259.16 428.7,259.49 430.2,259.81 431.7,260.11 433.2,260.38 434.7,260.64 436.2,260.89 437.7,261.12 439.2,261.33 440.7,261.54 442.2,261.73 443.7,261.91 445.2,262.08 446.7,262.25 448.2,262.40 449.7,262.54 451.2,262.68 452.7,262.81 454.2,262.94 455.7,263.06 457.2,263.17 458.7,263.28 460.2,263.38 461.7,263.47 463.2,263.57" fill="none" stroke="#ff2424" stroke-width="0.88" />
<line x1="287.3" y1="209.6" x2="464.3" y2="209.6" stroke="#3a10e8" stroke-width="1.15"/>
<line x1="287.3" y1="209.25" x2="440" y2="209.25" stroke="#000" stroke-width="0.6" opacity="0.55"/>
<text x="277.2" y="160.8" font-size="17.5" text-anchor="end" fill="#000"  >1</text>
<text x="278.9" y="211" font-size="17.5" text-anchor="end" fill="#000"  >0</text>
<text x="280.4" y="262.8" font-size="17.5" text-anchor="end" fill="#000"  >-1</text>
<text x="307.0" y="280.6" font-size="17.5" text-anchor="middle" fill="#000"  >-0.2</text>
<text x="376.0" y="280.6" font-size="17.5" text-anchor="middle" fill="#000"  >0</text>
<text x="443.6" y="280.6" font-size="17.5" text-anchor="middle" fill="#000"  >0.2</text>
<text x="286.8" y="174.2" font-size="17.2" text-anchor="start" fill="#000"  >(d)</text>
<g fill="#000" font-size="17.5">
<text x="342.3" y="296.0" font-style="italic">k</text>
<text x="350.7" y="296.0" font-size="19">(</text>
<text x="356.1" y="296.0" font-style="italic" font-size="17.5">μ</text>
<text x="364.7" y="296.0" textLength="15.8" lengthAdjust="spacingAndGlyphs">m</text>
<text x="381.8" y="290.6" font-size="12.5" textLength="8.3" lengthAdjust="spacingAndGlyphs">−</text>
<text x="389.9" y="291.0" font-size="12.5">1</text>
<text x="398.4" y="296.0" font-size="19">)</text>
</g>
<g fill="#3a10e8" stroke="none" font-size="16">
<polyline points="287.5,190.2 284.5,198.0 287.5,205.8" fill="none" stroke="#3a10e8" stroke-width="0.85"/>
<text x="288.1" y="202.4" textLength="9.0" lengthAdjust="spacingAndGlyphs">2</text>
<text x="297.4" y="202.4">,</text>
<text x="302.0" y="202.4" font-style="italic" font-size="16.5" textLength="8.0" lengthAdjust="spacingAndGlyphs">k</text>
<line x1="311.6" y1="190.2" x2="311.6" y2="205.8" stroke="#3a10e8" stroke-width="0.85"/>
<text x="316.7" y="202.4" font-style="italic" font-size="17" textLength="9.6" lengthAdjust="spacingAndGlyphs">S</text>
<text x="327.1" y="197.0" font-style="italic" font-size="12.8">z</text>
<line x1="337.6" y1="190.2" x2="337.6" y2="205.8" stroke="#3a10e8" stroke-width="0.85"/>
<text x="339.0" y="202.4" textLength="9.0" lengthAdjust="spacingAndGlyphs">2</text>
<text x="348.5" y="202.4">,</text>
<text x="353.4" y="202.4" font-style="italic" font-size="16.5" textLength="8.0" lengthAdjust="spacingAndGlyphs">k</text>
<polyline points="362.7,190.2 365.7,198.0 362.7,205.8" fill="none" stroke="#3a10e8" stroke-width="0.85"/>
</g>
<g fill="#000" stroke="none" font-size="16">
<polyline points="385.2,189.3 382.1,197.1 385.2,204.9" fill="none" stroke="#000" stroke-width="0.85"/>
<text x="385.8" y="201.5" textLength="9.2" lengthAdjust="spacingAndGlyphs">2</text>
<text x="395.2" y="201.5">,</text>
<text x="399.9" y="201.5" font-style="italic" font-size="16.5" textLength="8.2" lengthAdjust="spacingAndGlyphs">k</text>
<line x1="409.7" y1="189.3" x2="409.7" y2="204.9" stroke="#000" stroke-width="0.85"/>
<text x="414.8" y="201.5" font-style="italic" font-size="17" textLength="9.8" lengthAdjust="spacingAndGlyphs">S</text>
<text x="425.5" y="196.1" font-style="italic" font-size="12.8">x</text>
<line x1="436.1" y1="189.3" x2="436.1" y2="204.9" stroke="#000" stroke-width="0.85"/>
<text x="437.6" y="201.5" textLength="9.2" lengthAdjust="spacingAndGlyphs">2</text>
<text x="447.3" y="201.5">,</text>
<text x="452.3" y="201.5" font-style="italic" font-size="16.5" textLength="8.2" lengthAdjust="spacingAndGlyphs">k</text>
<polyline points="461.7,189.3 464.8,197.1 461.7,204.9" fill="none" stroke="#000" stroke-width="0.85"/>
</g>
<g fill="#ff2424" stroke="none" font-size="16">
<polyline points="294.9,215.5 291.8,223.3 294.9,231.1" fill="none" stroke="#ff2424" stroke-width="0.85"/>
<text x="295.6" y="227.7" textLength="9.4" lengthAdjust="spacingAndGlyphs">2</text>
<text x="305.2" y="227.7">,</text>
<text x="310.0" y="227.7" font-style="italic" font-size="16.5" textLength="8.3" lengthAdjust="spacingAndGlyphs">k</text>
<line x1="320.0" y1="215.5" x2="320.0" y2="231.1" stroke="#ff2424" stroke-width="0.85"/>
<text x="325.2" y="227.7" font-style="italic" font-size="17" textLength="10.0" lengthAdjust="spacingAndGlyphs">S</text>
<text x="336.0" y="222.3" font-style="italic" font-size="12.8">y</text>
<line x1="346.9" y1="215.5" x2="346.9" y2="231.1" stroke="#ff2424" stroke-width="0.85"/>
<text x="348.3" y="227.7" textLength="9.4" lengthAdjust="spacingAndGlyphs">2</text>
<text x="358.3" y="227.7">,</text>
<text x="363.4" y="227.7" font-style="italic" font-size="16.5" textLength="8.3" lengthAdjust="spacingAndGlyphs">k</text>
<polyline points="373.0,215.5 376.1,223.3 373.0,231.1" fill="none" stroke="#ff2424" stroke-width="0.85"/>
</g>
<g fill="#ff2424" font-size="16.5">
<text x="327.0" y="250.7" font-size="14" textLength="8.6" lengthAdjust="spacingAndGlyphs">=</text>
<text x="336.6" y="251.0" textLength="9.6" lengthAdjust="spacingAndGlyphs">−</text>
<text x="346.4" y="251.0" font-style="italic" font-size="17">k</text>
<text x="356.4" y="252.6" font-size="21" textLength="7" lengthAdjust="spacingAndGlyphs">/</text>
<polyline points="363.8,247.6 366.0,246.4 370.4,255.0 376.2,237.5 465.2,237.5" fill="none" stroke="#ff2424" stroke-width="0.9"/>
<text x="377.4" y="251.0" font-style="italic" font-size="17">k</text>
<text x="385.0" y="245.4" font-size="11.5">2</text>
<text x="394.8" y="251.6" font-size="18">+</text>
<text x="409.0" y="250.8" font-size="19">(</text>
<text x="414.6" y="251.0" font-style="italic" font-size="17">α</text>
<text x="423.2" y="252.6" font-size="21" textLength="7" lengthAdjust="spacingAndGlyphs">/</text>
<text x="430.2" y="251.0" font-style="italic" font-size="17">ħ</text>
<text x="437.4" y="251.0" font-style="italic" font-size="17">v</text>
<text x="443.6" y="253.8" font-style="italic" font-size="12.5" textLength="9" lengthAdjust="spacingAndGlyphs">F</text>
<text x="453.6" y="250.8" font-size="19">)</text>
<text x="459.4" y="246.4" font-size="11.5">2</text>
</g>
</svg>
</body></html>
